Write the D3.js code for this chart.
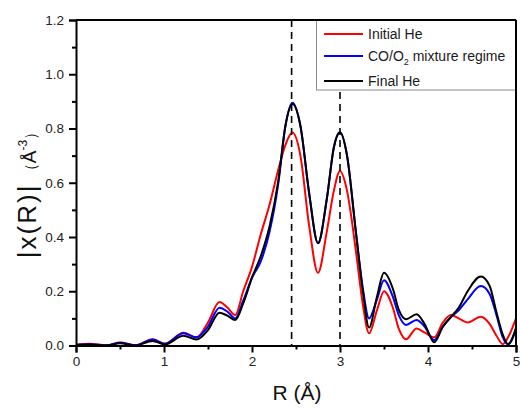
<!DOCTYPE html>
<html>
<head>
<meta charset="utf-8">
<script src="https://cdn.jsdelivr.net/npm/d3@7"></script>
<style>
  html, body { margin: 0; padding: 0; background: #fff; }
  svg { display: block; font-family: Arial, "Liberation Sans", sans-serif; }
</style>
</head>
<body>
<svg id="chart" width="520" height="408"></svg>
<script>
// Fourier-transformed EXAFS magnitude |χ(R)| for three gas regimes
const rValues = [0, 0.15, 0.35, 0.5, 0.68, 0.87, 1.01, 1.22, 1.37, 1.5, 1.63, 1.72, 1.81, 1.9, 2.0, 2.1, 2.2, 2.3, 2.38, 2.46, 2.55, 2.65, 2.75, 2.85, 2.93, 3.0, 3.08, 3.18, 3.26, 3.33, 3.42, 3.5, 3.6, 3.67, 3.75, 3.87, 3.96, 4.07, 4.17, 4.26, 4.35, 4.45, 4.6, 4.7, 4.78, 4.85, 4.91, 5.0];

const initialHe = [0.003, 0.006, 0.001, 0.011, 0.001, 0.023, 0.006, 0.047, 0.03, 0.085, 0.16, 0.14, 0.112, 0.2, 0.29, 0.41, 0.52, 0.65, 0.74, 0.785, 0.70, 0.44, 0.268, 0.42, 0.57, 0.643, 0.57, 0.35, 0.15, 0.045, 0.13, 0.2, 0.14, 0.06, 0.023, 0.063, 0.048, 0.03, 0.085, 0.112, 0.1, 0.085, 0.106, 0.08, 0.035, 0.005, 0.03, 0.1];

const coO2Mixture = [0.003, 0.005, 0.001, 0.01, 0.001, 0.022, 0.006, 0.045, 0.03, 0.07, 0.139, 0.125, 0.1, 0.165, 0.25, 0.31, 0.42, 0.6, 0.81, 0.895, 0.81, 0.56, 0.377, 0.54, 0.73, 0.786, 0.70, 0.42, 0.21, 0.1, 0.17, 0.241, 0.18, 0.11, 0.076, 0.094, 0.07, 0.02, 0.07, 0.105, 0.13, 0.17, 0.219, 0.19, 0.11, 0.03, 0.005, 0.06];

const finalHe = [0.002, 0.004, 0.0, 0.008, 0.0, 0.017, 0.004, 0.036, 0.022, 0.057, 0.121, 0.11, 0.094, 0.155, 0.25, 0.33, 0.44, 0.61, 0.81, 0.89, 0.81, 0.56, 0.377, 0.54, 0.73, 0.786, 0.70, 0.42, 0.2, 0.066, 0.18, 0.268, 0.21, 0.13, 0.097, 0.115, 0.08, 0.012, 0.07, 0.105, 0.14, 0.2, 0.254, 0.22, 0.12, 0.04, 0.005, 0.065];

const seriesNames = ["Initial He", "CO/O2 mixture regime", "Final He"];
const seriesColors = ["#ff0000", "#0000ff", "#000000"];
const peakPositions = [2.45, 3.0];

const xTicks = [0, 1, 2, 3, 4, 5];
const yTicks = [0, 0.2, 0.4, 0.6, 0.8, 1.0, 1.2];

const svg = d3.select("#chart");
const plotLeft = 76, plotRight = 516, plotTop = 20, plotBottom = 345.5;

const x = d3.scaleLinear().domain([0, 5]).range([plotLeft, plotRight]);
const y = d3.scaleLinear().domain([0, 1.2]).range([plotBottom, plotTop]);

const seriesData = [initialHe, coO2Mixture, finalHe];

// clip the curves to the frame
svg.append("clipPath").attr("id", "plot-clip")
  .append("rect").attr("x", plotLeft).attr("y", plotTop)
  .attr("width", plotRight - plotLeft).attr("height", plotBottom - plotTop);

// curves
const line = d3.line()
  .x((d, i) => x(rValues[i]))
  .y(d => y(d))
  .curve(d3.curveMonotoneX);

const curves = svg.append("g").attr("clip-path", "url(#plot-clip)");
seriesData.forEach((vals, k) => {
  curves.append("path")
    .datum(vals)
    .attr("d", line)
    .attr("fill", "none")
    .attr("stroke", seriesColors[k])
    .attr("stroke-width", 2)
    .attr("stroke-linejoin", "round");
});

// dashed markers at the main shells
svg.append("g").selectAll("line").data(peakPositions).join("line")
  .attr("x1", d => x(d)).attr("x2", d => x(d))
  .attr("y1", plotTop).attr("y2", plotBottom)
  .attr("stroke", "#000").attr("stroke-width", 1.6)
  .attr("stroke-dasharray", "7,5");

// legend
const legend = svg.append("g");
legend.append("rect")
  .attr("x", 316.5).attr("y", plotTop).attr("width", plotRight - 316.5).attr("height", 70)
  .attr("fill", "#fff").attr("stroke", "#8a8a8a").attr("stroke-width", 1);
const legendRows = [34, 56, 81];
seriesNames.forEach((name, k) => {
  legend.append("line")
    .attr("x1", 324).attr("x2", 363)
    .attr("y1", legendRows[k]).attr("y2", legendRows[k])
    .attr("stroke", seriesColors[k]).attr("stroke-width", 2);
  const t = legend.append("text")
    .attr("x", 368).attr("y", legendRows[k] + 5)
    .attr("font-size", 14).attr("fill", "#1a1a1a");
  if (k === 1) {
    t.append("tspan").text("CO/O");
    t.append("tspan").attr("font-size", 9).attr("dy", 4).text("2");
    t.append("tspan").attr("dy", -4).text(" mixture regime");
  } else {
    t.text(name);
  }
});

// frame: top and right borders
svg.append("line").attr("x1", plotLeft).attr("x2", plotRight).attr("y1", plotTop).attr("y2", plotTop)
  .attr("stroke", "#000").attr("stroke-width", 2);
svg.append("line").attr("x1", plotRight).attr("x2", plotRight).attr("y1", plotTop).attr("y2", plotBottom)
  .attr("stroke", "#000").attr("stroke-width", 2);

// minor ticks
const xMinor = d3.range(0.5, 5, 1);
const yMinor = d3.range(0.1, 1.2, 0.2);

svg.append("g").attr("transform", `translate(0,${plotBottom})`)
  .call(d3.axisBottom(x).tickValues(xTicks).tickFormat(d3.format("d")).tickSize(7).tickPadding(4));
svg.append("g").attr("transform", `translate(0,${plotBottom})`)
  .call(d3.axisBottom(x).tickValues(xMinor).tickSize(4).tickFormat(""))
  .call(g => g.select(".domain").remove());

svg.append("g").attr("transform", `translate(${plotLeft},0)`)
  .call(d3.axisLeft(y).tickValues(yTicks).tickFormat(d3.format(".1f")).tickSize(7).tickPadding(5));
svg.append("g").attr("transform", `translate(${plotLeft},0)`)
  .call(d3.axisLeft(y).tickValues(yMinor).tickSize(4).tickFormat(""))
  .call(g => g.select(".domain").remove());

svg.selectAll(".domain").attr("stroke", "#000").attr("stroke-width", 2);
svg.selectAll(".tick line").attr("stroke", "#000").attr("stroke-width", 2);
svg.selectAll(".tick text")
  .attr("font-family", "Arial, 'Liberation Sans', sans-serif")
  .attr("font-size", 13.5).attr("fill", "#222");

// axis titles
svg.append("text")
  .attr("x", 297).attr("y", 400)
  .attr("text-anchor", "middle")
  .attr("font-size", 21).attr("fill", "#111")
  .text("R (Å)");

const yTitle = svg.append("text")
  .attr("transform", "translate(36,191) rotate(-90)")
  .attr("text-anchor", "middle")
  .attr("fill", "#111");
yTitle.append("tspan").attr("font-size", 26).attr("letter-spacing", 2).text("|x(R)|");
yTitle.append("tspan").attr("font-size", 16).text(" （");
yTitle.append("tspan").attr("font-size", 19).text("Å");
yTitle.append("tspan").attr("font-size", 12).attr("dy", -9).text("-3");
yTitle.append("tspan").attr("font-size", 16).attr("dy", 9).text("）");
</script>
</body>
</html>
